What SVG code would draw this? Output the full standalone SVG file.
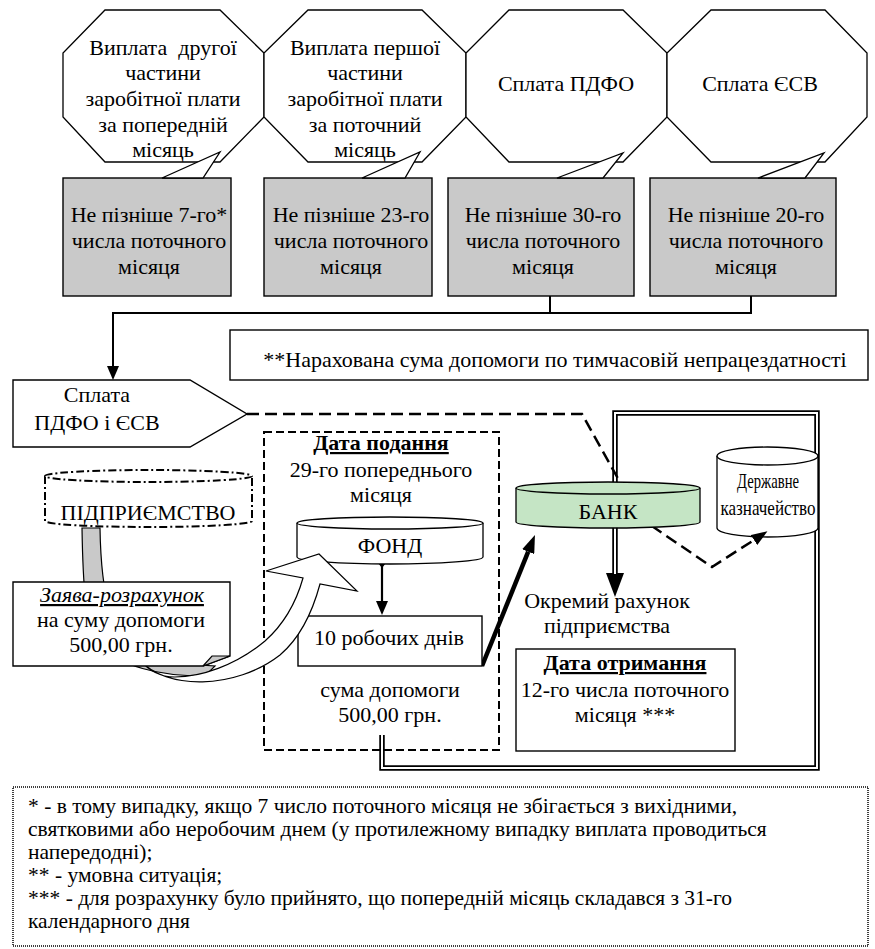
<svg xmlns="http://www.w3.org/2000/svg" width="875" height="949" viewBox="0 0 875 949">
<style>
.t{font-family:"Liberation Serif","Times New Roman",serif;font-size:22px;fill:#000;text-anchor:middle}
.n{font-family:"Liberation Serif","Times New Roman",serif;font-size:21.5px;fill:#000}
.b{font-weight:bold;text-decoration:underline}
.i{font-style:italic;text-decoration:underline}
.oct{fill:#fff;stroke:#000;stroke-width:1.3}
.gbox{fill:#c9c9c9;stroke:#000;stroke-width:1.4}
.tail{fill:#fff;stroke:#000;stroke-width:1.3;stroke-linejoin:miter}
.box{fill:#fff;stroke:#000;stroke-width:1.4}
.cyl{fill:#fff;stroke:#000;stroke-width:1.3}
.ln{fill:none;stroke:#000}
.dbl{fill:none;stroke:#000;stroke-width:5.5}
.dblin{fill:none;stroke:#fff;stroke-width:2}
</style>
<defs>
<marker id="ah" viewBox="0 0 14 12" refX="0" refY="6" markerWidth="14" markerHeight="12" markerUnits="userSpaceOnUse" orient="auto"><path d="M0,0 L14,6 L0,12 Z" fill="#000"/></marker>
<marker id="ahBig" viewBox="0 0 24 18" refX="0" refY="9" markerWidth="24" markerHeight="18" markerUnits="userSpaceOnUse" orient="auto"><path d="M0,0 L24,9 L0,18 Z" fill="#000"/></marker>
<marker id="ahThick" viewBox="0 0 18 13" refX="0" refY="6.5" markerWidth="18" markerHeight="13" markerUnits="userSpaceOnUse" orient="auto"><path d="M0,0 L18,6.5 L0,13 Z" fill="#000"/></marker>
<marker id="ahDash" viewBox="0 0 16 12" refX="0" refY="6" markerWidth="16" markerHeight="12" markerUnits="userSpaceOnUse" orient="auto"><path d="M0,0 L16,6 L0,12 Z" fill="#000"/></marker>
<marker id="dia" viewBox="0 0 10 8" refX="5" refY="4" markerWidth="10" markerHeight="8" markerUnits="userSpaceOnUse" orient="auto"><path d="M0,4 L5,0 L10,4 L5,8 Z" fill="#000"/></marker>
</defs>

<!-- octagons -->
<g id="oct1">
<polygon class="oct" points="105,10 220,10 264,53 264,117 220,162 105,162 63,117 63,53"/>
<text class="t" x="163" y="55" xml:space="preserve">Виплата  другої</text>
<text class="t" x="163" y="80">частини</text>
<text class="t" x="163" y="106">заробітної плати</text>
<text class="t" x="163" y="132">за попередній</text>
<text class="t" x="163" y="157">місяць</text>
</g>
<g id="oct2">
<polygon class="oct" points="308,10 422,10 466,53 466,117 422,162 308,162 264,117 264,53"/>
<text class="t" x="365" y="55">Виплата першої</text>
<text class="t" x="365" y="80">частини</text>
<text class="t" x="365" y="106">заробітної плати</text>
<text class="t" x="365" y="132">за поточний</text>
<text class="t" x="365" y="157">місяць</text>
</g>
<g id="oct3">
<polygon class="oct" points="509,10 623,10 667,53 667,117 623,162 509,162 466,117 466,53"/>
<text class="t" x="566" y="91">Сплата ПДФО</text>
</g>
<g id="oct4">
<polygon class="oct" points="711,10 825,10 867,53 867,117 825,162 711,162 667,117 667,53"/>
<text class="t" x="760" y="91">Сплата ЄСВ</text>
</g>

<!-- callouts -->
<g id="call1">
<rect class="gbox" x="63" y="178" width="168" height="118"/>
<polygon class="tail" points="162,178 220,152 203,178"/>
<text class="t" x="149" y="222">Не пізніше 7-го*</text>
<text class="t" x="149" y="248">числа поточного</text>
<text class="t" x="149" y="274">місяця</text>
</g>
<g id="call2">
<rect class="gbox" x="264" y="178" width="168" height="118"/>
<polygon class="tail" points="362,178 420,152 405,178"/>
<text class="t" x="351" y="222">Не пізніше 23-го</text>
<text class="t" x="351" y="248">числа поточного</text>
<text class="t" x="351" y="274">місяця</text>
</g>
<g id="call3">
<rect class="gbox" x="448" y="178" width="186" height="118"/>
<polygon class="tail" points="557,178 623,153 603,178"/>
<text class="t" x="543" y="222">Не пізніше 30-го</text>
<text class="t" x="543" y="248">числа поточного</text>
<text class="t" x="543" y="274">місяця</text>
</g>
<g id="call4">
<rect class="gbox" x="650" y="178" width="186" height="118"/>
<polygon class="tail" points="758,178 824,153 805,178"/>
<text class="t" x="746" y="222">Не пізніше 20-го</text>
<text class="t" x="746" y="248">числа поточного</text>
<text class="t" x="746" y="274">місяця</text>
</g>

<!-- note box -->
<g id="note">
<rect class="box" x="230" y="330" width="638" height="50"/>
<text class="t" x="555" y="367">**Нарахована сума допомоги по тимчасовій непрацездатності</text>
</g>

<!-- double-line frame behind nodes -->
<g id="frame">
<path class="dbl" d="M382,735 V768 H817 V413 H615 V573" marker-end="url(#ahBig)"/>
<path class="dblin" d="M382,735 V768 H817 V413 H615 V574"/>
</g>

<g id="treasury">
<path class="cyl" d="M717,456 V528 A50.5,9 0 0 0 818,528 V456"/>
<ellipse class="cyl" cx="767.5" cy="456" rx="50.5" ry="9"/>
<text class="t" x="768" y="488" textLength="62" lengthAdjust="spacingAndGlyphs">Державне</text>
<text class="t" x="768" y="515" textLength="95" lengthAdjust="spacingAndGlyphs">казначейство</text>
</g>

<!-- connectors -->
<g id="connectors">
<path class="ln" stroke-width="2" d="M751,296 V313 H113 V366" marker-end="url(#ah)"/>
<path class="ln" stroke-width="2" d="M550,296 V313"/>
<path class="ln" stroke-width="2.5" stroke-dasharray="12,6" d="M247,414 H582 L640,518 L712,567 L754,540" marker-end="url(#ahDash)"/>
<path class="ln" stroke-width="2.2" d="M382,563 V601" marker-start="url(#dia)" marker-end="url(#ah)"/>
<path class="ln" stroke-width="4.5" d="M482,666 L528.2,551.7" marker-end="url(#ahThick)"/>
</g>

<!-- pentagon -->
<g id="pay">
<polygon class="box" points="13,380 190,380 247,414 190,447 13,447"/>
<text class="t" x="97" y="402">Сплата</text>
<text class="t" x="97" y="430">ПДФО і ЄСВ</text>
</g>

<!-- dashed group box -->
<g id="submit">
<rect x="264" y="432" width="235" height="318" fill="none" stroke="#000" stroke-width="2" stroke-dasharray="8,4"/>
<text class="t b" x="381" y="450">Дата подання</text>
<text class="t" x="381" y="477">29-го попереднього</text>
<text class="t" x="381" y="502">місяця</text>
<text class="t" x="390" y="697">сума допомоги</text>
<text class="t" x="390" y="722">500,00 грн.</text>
</g>

<g id="fond">
<path class="cyl" d="M297,523 V557 A93,7 0 0 0 483,557 V523"/>
<ellipse class="cyl" cx="390" cy="523" rx="93" ry="6"/>
<text class="t" x="390" y="553">ФОНД</text>
</g>

<g id="days">
<rect class="box" x="298" y="616" width="184" height="50"/>
<text class="t" x="389" y="645">10 робочих днів</text>
</g>

<g id="enterprise">
<path d="M45,476 V521 A103.5,6 0 0 0 252,521 V476" fill="#fff" stroke="#000" stroke-width="2" stroke-dasharray="8,3,2,3"/>
<ellipse cx="148.5" cy="476" rx="103.5" ry="6" fill="#fff" stroke="#000" stroke-width="2" stroke-dasharray="8,3,2,3"/>
<text class="t" x="148" y="520">ПІДПРИЄМСТВО</text>
</g>

<!-- curved arrow -->
<g id="curved">
<path d="M82,528 L100,528 C101,590 108,640 150,662 L215,666 L205,676 C160,676 120,668 95,640 C86,620 83,590 82,528 Z" fill="#c9c9c9" stroke="#000" stroke-width="1.2"/>
<path d="M140,660 C165,690 235,690 280,655 C300,638 313,610 320,584 L357,591 L319,554 L266,571 L303,578 C296,603 283,625 265,641 C235,666 200,677 175,677 C160,677 148,670 140,660 Z" fill="#fff" stroke="#000" stroke-width="1.2"/>
</g>

<g id="claim">
<path class="box" d="M13,582 H230 V656 L203,666 H13 Z"/>
<polygon points="203,666 212,656 230,656" fill="#c9c9c9" stroke="#000" stroke-width="1.2"/>
<text class="t i" x="122" y="602">Заява-розрахунок</text>
<text class="t" x="121" y="627">на суму допомоги</text>
<text class="t" x="121" y="652">500,00 грн.</text>
</g>

<g id="bank">
<path d="M516,488 V522 A92,6 0 0 0 700,522 V488" fill="#c5e5c5" stroke="#000" stroke-width="1.3"/>
<ellipse cx="608" cy="488" rx="92" ry="6" fill="#c5e5c5" stroke="#000" stroke-width="1.3"/>
<text class="t" x="608" y="519">БАНК</text>
</g>

<g id="account">
<text class="t" x="607" y="608">Окремий рахунок</text>
<text class="t" x="607" y="633">підприємства</text>
</g>

<g id="received">
<rect class="box" x="516" y="649" width="219" height="102"/>
<text class="t b" x="625" y="670">Дата отримання</text>
<text class="t" x="625" y="697">12-го числа поточного</text>
<text class="t" x="625" y="722">місяця ***</text>
</g>

<g id="notes">
<rect x="13" y="787" width="855" height="159" fill="#fff" stroke="#000" stroke-width="1.5" stroke-dasharray="1,1"/>
<text class="n" x="28" y="813">* - в тому випадку, якщо 7 число поточного місяця не збігається з вихідними,</text>
<text class="n" x="28" y="836">святковими або неробочим днем (у протилежному випадку виплата проводиться</text>
<text class="n" x="28" y="859">напередодні);</text>
<text class="n" x="28" y="882">** - умовна ситуація;</text>
<text class="n" x="28" y="905">*** - для розрахунку було прийнято, що попередній місяць складався з 31-го</text>
<text class="n" x="28" y="928">календарного дня</text>
</g>
</svg>
